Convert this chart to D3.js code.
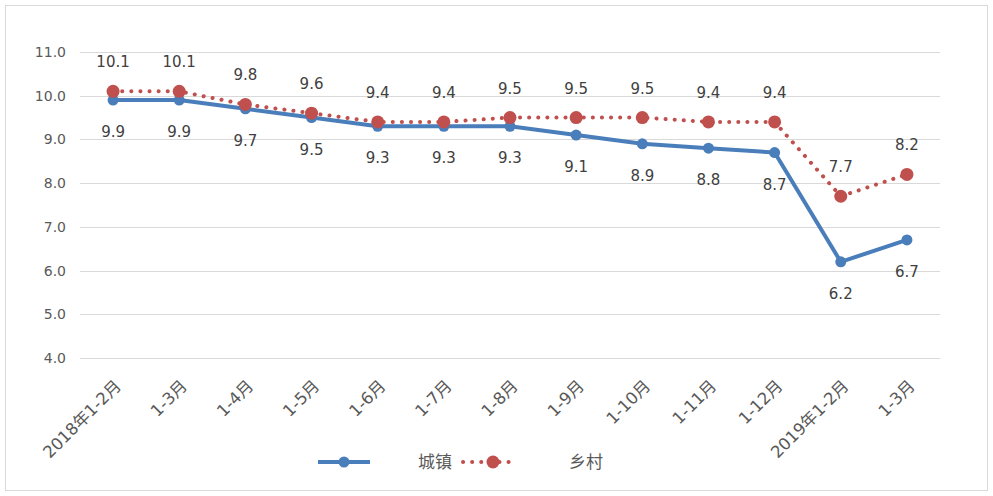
<!DOCTYPE html>
<html>
<head>
<meta charset="utf-8">
<script src="https://cdn.jsdelivr.net/npm/d3@7/dist/d3.min.js"></script>
<style>
  html, body { margin: 0; padding: 0; background: #fff; }
  svg { display: block; font-family: "Microsoft YaHei", "Noto Sans CJK SC", "DejaVu Sans", sans-serif; }
</style>
</head>
<body>
<svg id="chart" width="993" height="496"></svg>
<script>
const categories = ["2018年1-2月", "1-3月", "1-4月", "1-5月", "1-6月", "1-7月", "1-8月", "1-9月", "1-10月", "1-11月", "1-12月", "2019年1-2月", "1-3月"];
const urban = [9.9, 9.9, 9.7, 9.5, 9.3, 9.3, 9.3, 9.1, 8.9, 8.8, 8.7, 6.2, 6.7];
const rural = [10.1, 10.1, 9.8, 9.6, 9.4, 9.4, 9.5, 9.5, 9.5, 9.4, 9.4, 7.7, 8.2];
const yTicks = [4, 5, 6, 7, 8, 9, 10, 11];
const seriesNames = ["城镇", "乡村"];

const blue = "#4a7ebb";
const red = "#c0504d";
const textColor = "#595959";
const numFont = "\"DejaVu Sans\", sans-serif";
const cjkFont = "\"DejaVu Sans\", \"Noto Sans CJK SC\", sans-serif";

const svg = d3.select("#chart");

// outer frame
svg.append("rect")
  .attr("x", 5.5).attr("y", 5.5).attr("width", 982).attr("height", 485)
  .attr("fill", "none").attr("stroke", "#d9d9d9");

const x = d3.scaleBand().domain(d3.range(categories.length)).range([80, 940]);
const y = d3.scaleLinear().domain([4, 11]).range([358, 52]);
const cx = i => x(i) + x.bandwidth() / 2;

// gridlines
svg.append("g").selectAll("line").data(yTicks).join("line")
  .attr("x1", 80).attr("x2", 940)
  .attr("y1", d => Math.round(y(d)) + 0.5).attr("y2", d => Math.round(y(d)) + 0.5)
  .attr("stroke", "#d9d9d9").attr("stroke-width", 1);

// y axis labels
const yAxis = svg.append("g").attr("transform", "translate(80,0)")
  .call(d3.axisLeft(y).tickValues(yTicks).tickFormat(d3.format(".1f")).tickSize(0).tickPadding(14));
yAxis.select(".domain").remove();
yAxis.attr("font-size", null).attr("font-family", null);
yAxis.selectAll("text").attr("fill", textColor)
  .style("font-size", "14px").style("font-family", numFont);

// x axis labels, rotated
const xAxis = svg.append("g").attr("transform", "translate(0,358)")
  .call(d3.axisBottom(x).tickFormat(i => categories[i]).tickSize(0).tickPadding(0));
xAxis.select(".domain").remove();
xAxis.attr("font-size", null).attr("font-family", null);
xAxis.selectAll("text")
  .attr("fill", textColor)
  .style("font-size", "16.5px").style("font-family", cjkFont)
  .attr("text-anchor", "end")
  .attr("dy", "0")
  .attr("transform", "translate(9,29) rotate(-45)");

// lines
const line = d3.line().x((d, i) => cx(i)).y(d => y(d));

svg.append("path").datum(rural)
  .attr("d", line).attr("fill", "none")
  .attr("stroke", red).attr("stroke-width", 4)
  .attr("stroke-linecap", "round").attr("stroke-dasharray", "0.1 9");

svg.append("path").datum(urban)
  .attr("d", line).attr("fill", "none")
  .attr("stroke", blue).attr("stroke-width", 4)
  .attr("stroke-linejoin", "round");

svg.append("g").selectAll("circle").data(urban).join("circle")
  .attr("cx", (d, i) => cx(i)).attr("cy", d => y(d)).attr("r", 5.5)
  .attr("fill", blue);

svg.append("g").selectAll("circle").data(rural).join("circle")
  .attr("cx", (d, i) => cx(i)).attr("cy", d => y(d)).attr("r", 6.5)
  .attr("fill", red);

// value labels
const fmt = d3.format(".1f");
svg.append("g").selectAll("text").data(rural).join("text")
  .attr("x", (d, i) => cx(i)).attr("y", d => y(d) - 24)
  .attr("text-anchor", "middle").attr("fill", "#404040")
  .style("font-size", "15px").style("font-family", numFont)
  .text(d => fmt(d));

svg.append("g").selectAll("text").data(urban).join("text")
  .attr("x", (d, i) => cx(i)).attr("y", d => y(d) + 37)
  .attr("text-anchor", "middle").attr("fill", "#404040")
  .style("font-size", "15px").style("font-family", numFont)
  .text(d => fmt(d));

// legend
const legend = svg.append("g");
const ly = 462;
legend.append("line").attr("x1", 318).attr("x2", 370).attr("y1", ly).attr("y2", ly)
  .attr("stroke", blue).attr("stroke-width", 4);
legend.append("circle").attr("cx", 344).attr("cy", ly).attr("r", 5.5).attr("fill", blue);
legend.append("text").attr("x", 418).attr("y", ly + 6).attr("fill", textColor)
  .style("font-size", "17px").text(seriesNames[0]);

legend.append("line").attr("x1", 463).attr("x2", 514).attr("y1", ly).attr("y2", ly)
  .attr("stroke", red).attr("stroke-width", 4)
  .attr("stroke-linecap", "round").attr("stroke-dasharray", "0.1 9");
legend.append("circle").attr("cx", 493).attr("cy", ly).attr("r", 6.5).attr("fill", red);
legend.append("text").attr("x", 569).attr("y", ly + 6).attr("fill", textColor)
  .style("font-size", "17px").text(seriesNames[1]);
</script>
</body>
</html>
